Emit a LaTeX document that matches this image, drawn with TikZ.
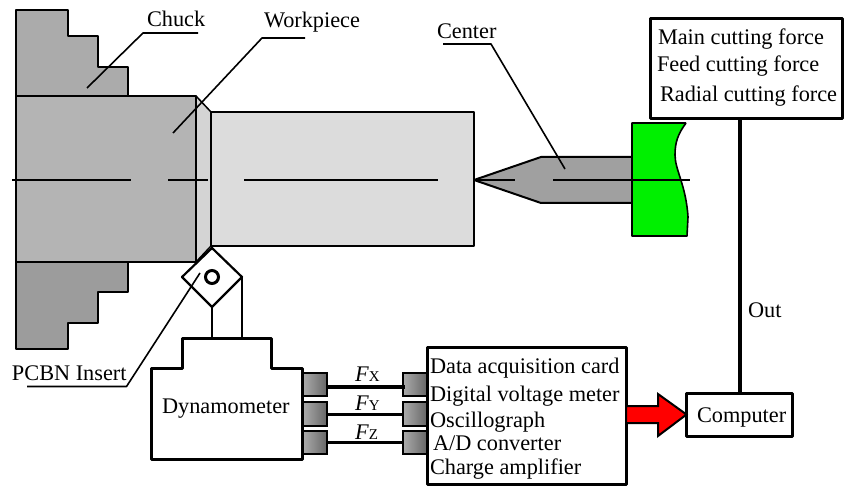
\documentclass[tikz,border=0pt]{standalone}
\usepackage{fontspec}
\setmainfont{Liberation Serif}
\definecolor{chuckT}{HTML}{ABABAB}
\definecolor{chuckB}{HTML}{9C9C9C}
\definecolor{mainG}{HTML}{B4B4B4}
\definecolor{chamG}{HTML}{D4D4D4}
\definecolor{workG}{HTML}{DCDCDC}
\definecolor{centG}{HTML}{A0A0A0}
\definecolor{greenC}{HTML}{00F000}
\tikzset{
  part/.style={draw=black,line width=2pt,line join=round},
  heavy/.style={draw=black,line width=3pt,line join=round},
  leader/.style={draw=black,line width=1.6pt,line join=round},
  axisline/.style={draw=black,line width=1.1pt},
  lbl/.style={anchor=base west,inner sep=0pt,outer sep=0pt,font=\fontsize{22.3}{24}\selectfont},
  boxn/.style={heavy,rectangle,inner sep=0pt,outer sep=0pt,fill=white},
  plug/.style={rectangle,draw=black,line width=2pt,inner sep=0pt,outer sep=0pt,minimum width=24pt,left color=#1,right color=#1!60!black},
  wire/.style={draw=black,line width=3pt},
}
\begin{document}
\begin{tikzpicture}[x=1pt,y=-1pt]
\useasboundingbox (0,0) rectangle (848,486);
% chuck jaws
\draw[part,fill=chuckT] (16,10)--(68,10)--(68,36)--(98,36)--(98,67)--(128,67)--(128,96)--(16,96)--cycle;
\draw[part,fill=chuckB] (16,262)--(128,262)--(128,292)--(98,292)--(98,323)--(68,323)--(68,349)--(16,349)--cycle;
% workpiece
\draw[part,line width=1.5pt,fill=chamG] (196,96)--(211,112)--(211,246)--(196,262)--cycle;
\draw[part,fill=mainG] (16,96)--(196,96)--(196,262)--(16,262)--cycle;
\draw[part,fill=workG] (211,112)--(474,112)--(474,246)--(211,246)--cycle;
% center
\draw[part,fill=centG] (474,180)--(541,157)--(632,157)--(632,203)--(541,203)--cycle;
% green holder
\fill[greenC] (632,123)--(686,123) .. controls (678,134) and (675,142) .. (675,155) .. controls (675,170) and (686,185) .. (688,217)--(687,236)--(632,236)--cycle;
\draw[line width=1.6pt,line join=round] (686,123)--(632,123)--(632,236)--(687,236)--(688,217) .. controls (686,185) and (675,170) .. (675,155) .. controls (675,142) and (678,134) .. (686,123);
% centre line
\coordinate (a1) at (12,180); \coordinate (a2) at (131,180);
\coordinate (a3) at (168,180); \coordinate (a4) at (208,180);
\coordinate (a5) at (244,180); \coordinate (a6) at (438,180);
\coordinate (a7) at (474,180); \coordinate (a8) at (515,180);
\coordinate (a9) at (553,180); \coordinate (a10) at (690,180);
\draw[axisline] (a1)--(a2) (a3)--(a4) (a5)--(a6) (a7)--(a8) (a9)--(a10);
% insert
\coordinate (it) at (212,248); \coordinate (ir) at (242,277);
\coordinate (ib) at (212,307); \coordinate (il) at (182,277);
\fill[white] (it)--(ir)--(ib)--(il)--cycle;
\draw[part,line width=2.2pt] (it)--(ir)--(ib)--(il)--cycle;
\node[circle,draw=black,line width=3pt,minimum size=13pt,inner sep=0pt] (hole) at (212,277) {};
% dynamometer
\coordinate (dt1) at (212,338); \coordinate (dt2) at (242,338);
\draw[heavy] (151,368)--(182,368)--(182,338)--(271,338)--(271,368)--(302,368)--(302,459)--(151,459)--cycle;
\draw[part] (ib)--(dt1) (ir)--(dt2);
% plugs
\node[plug=chuckT,minimum height=23pt] (p1) at (315,384) {};
\node[plug=chuckT,minimum height=24pt] (p2) at (315,414) {};
\node[plug=chuckT,minimum height=23pt] (p3) at (315,442.5) {};
\node[plug=chuckT,minimum height=23pt] (q1) at (415,384) {};
\node[plug=chuckT,minimum height=24pt] (q2) at (415,414) {};
\node[plug=chuckT,minimum height=23pt] (q3) at (415,442.5) {};
\coordinate (w1l) at (326,386.5); \coordinate (w1r) at (405,386.5);
\draw[wire,line width=4pt] (w1l)--(w1r);
\draw[wire] (p2.east)--(q2.west) (p3.east)--(q3.west);
% boxes
\node[boxn,minimum width=199pt,minimum height=137pt] (data) at (526.5,415.5) {};
\node[boxn,minimum width=192pt,minimum height=100pt] (force) at (746.5,69) {};
\node[boxn,minimum width=106pt,minimum height=43pt] (comp) at (739.5,414.5) {};
\draw[draw=black,line width=4pt] (comp.north)--(comp.north |- force.south);
% red arrow
\coordinate (ra1) at (data.east |- 0,406); \coordinate (ra2) at (data.east |- 0,423);
\draw[fill=red,line width=2pt,line join=miter] (ra1)--(658,406)--(658,394)--(comp.west)--(658,436)--(658,423)--(ra2)--cycle;
% leaders
\coordinate (c1) at (198,33); \coordinate (c2) at (143,33); \coordinate (c3) at (87,88);
\draw[leader] (c1)--(c2)--(c3);
\coordinate (k1) at (305,38); \coordinate (k2) at (262,38); \coordinate (k3) at (173,133);
\draw[leader] (k1)--(k2)--(k3);
\coordinate (e1) at (443,44); \coordinate (e2) at (491,44); \coordinate (e3) at (565,169);
\draw[leader] (e1)--(e2)--(e3);
\coordinate (b1) at (27,386.5); \coordinate (b2) at (126.5,386.5); \coordinate (b3) at (200,273);
\draw[leader] (b1)--(b2)--(b3);
% labels
\node[lbl] (tChuck) at (147,26.5) {Chuck};
\node[lbl] (tWork) at (264,28) {Workpiece};
\node[lbl] (tCenter) at (437,39) {Center};
\node[lbl] (tMain) at (658,45) {Main cutting force};
\node[lbl] (tFeed) at (657,72) {Feed cutting force};
\node[lbl] (tRad) at (660,102) {Radial cutting force};
\node[lbl] (tOut) at (748,317) {Out};
\node[lbl] (tComp) at (697,422) {Computer};
\node[lbl] (tD1) at (430,373) {Data acquisition card};
\node[lbl] (tD2) at (430,401) {Digital voltage meter};
\node[lbl] (tD3) at (430,427) {Oscillograph};
\node[lbl] (tD4) at (433,450) {A/D converter};
\node[lbl] (tD5) at (430,474) {Charge amplifier};
\node[lbl] (tDyn) at (162,413) {Dynamometer};
\node[lbl] (tIns) at (12,380) {PCBN Insert};
\node[lbl] (tFx) at (355,381) {\textit{F}{\fontsize{15}{15}\selectfont X}};
\node[lbl] (tFy) at (355,410) {\textit{F}{\fontsize{15}{15}\selectfont Y}};
\node[lbl] (tFz) at (355,439) {\textit{F}{\fontsize{15}{15}\selectfont Z}};
\end{tikzpicture}
\end{document}
